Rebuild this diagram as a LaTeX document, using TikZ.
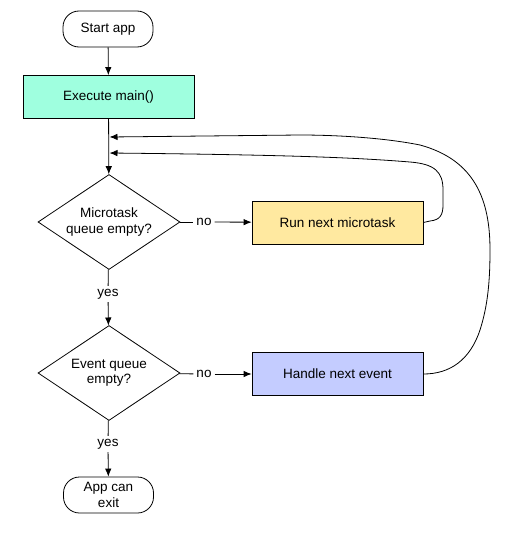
\documentclass[tikz,border=0pt]{standalone}
\usepackage{fontspec}
\setmainfont{Liberation Sans}
\usepackage{xcolor}
\usepackage{tikz}
\usetikzlibrary{arrows.meta, positioning, shapes.geometric}
\definecolor{mainfill}{HTML}{9FFFDF}
\definecolor{mtfill}{HTML}{FFE9A0}
\definecolor{evfill}{HTML}{C4CCFF}
\newcommand{\flowfont}{\fontsize{13.5}{15.5}\selectfont}
\tikzset{
  termnode/.style={draw=black,rounded corners=16pt,minimum width=90pt,minimum height=36pt,inner sep=1pt,align=center,font=\flowfont,line width=0.8pt},
  procnode/.style={draw=black,minimum width=171pt,minimum height=43pt,font=\flowfont,line width=0.8pt},
  decnode/.style={draw=black,diamond,aspect=1.5,minimum width=142pt,minimum height=95pt,inner sep=0pt,align=center,font=\flowfont,line width=0.8pt},
  lblnode/.style={inner sep=3pt,font=\flowfont},
  flowedge/.style={-{Latex[length=8pt,width=6.5pt]},line width=0.8pt},
  plainedge/.style={line width=0.8pt},
}

\begin{document}
\begin{tikzpicture}[x=1pt,y=-1pt]
  \useasboundingbox (0,0) rectangle (511,546);
  \node[termnode] (nStart) at (108,29) {Start app};
  \node[procnode,fill=mainfill] (nMain) at (108.5,97) {Execute main()};
  \node[decnode] (nMtq) at (109,222) {Microtask\\queue empty?};
  \node[procnode,fill=mtfill] (nRunMt) at (337.5,222.5) {Run next microtask};
  \node[decnode] (nEvq) at (109,373) {Event queue\\empty?};
  \node[procnode,fill=evfill] (nHandle) at (337.5,374) {Handle next event};
  \node[termnode] (nExit) at (108.5,495) {App can\\exit};
  \node[lblnode] (nNo1) at (204,222) {no};
  \node[lblnode] (nYes1) at (108,294) {yes};
  \node[lblnode] (nNo2) at (204,374) {no};
  \node[lblnode] (nYes2) at (108,444) {yes};
  \coordinate (cIn1) at (109.5,137);
  \coordinate (cIn2) at (109.5,153);
  \draw[flowedge] (nStart) -- (nMain);
  \draw[flowedge] (nMain) -- (nMtq);
  \draw[plainedge] (nMtq) -- (nNo1);
  \draw[flowedge] (nNo1) -- (nRunMt);
  \draw[plainedge] (nMtq) -- (nYes1);
  \draw[flowedge] (nYes1) -- (nEvq);
  \draw[plainedge] (nEvq) -- (nNo2);
  \draw[flowedge] (nNo2) -- (nHandle);
  \draw[plainedge] (nEvq) -- (nYes2);
  \draw[flowedge] (nYes2) -- (nExit);
  % loops back to the main line
  \draw[flowedge] (nRunMt.east) -- (430,221) .. controls (440,220) and (443,215) .. (443,205)
    -- (443,190) .. controls (443,172) and (435,164) .. (410,162)
    .. controls (360,158) and (300,155) .. (cIn2);
  \draw[flowedge] (nHandle.east) .. controls (450,374) and (470,360) .. (480,330)
    .. controls (488,305) and (490,280) .. (490,250)
    .. controls (490,200) and (475,160) .. (420,145)
    .. controls (380,137) and (330,135) .. (300,135) -- (cIn1);
\end{tikzpicture}
\end{document}
